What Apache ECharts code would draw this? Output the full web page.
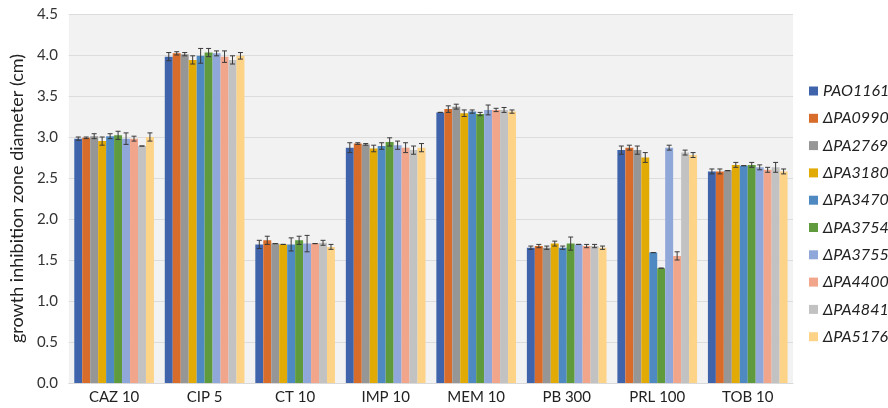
<!DOCTYPE html>
<html>
<head>
<meta charset="utf-8">
<script src="https://cdn.jsdelivr.net/npm/echarts@6/dist/echarts.min.js"></script>
<style>
html,body{margin:0;padding:0;background:#fff;}
#chart{width:888px;height:408px;}
</style>
</head>
<body>
<div id="chart"></div>
<script>
const categories = ['CAZ 10','CIP 5','CT 10','IMP 10','MEM 10','PB 300','PRL 100','TOB 10'];
const seriesNames = ['PAO1161','ΔPA0990','ΔPA2769','ΔPA3180','ΔPA3470','ΔPA3754','ΔPA3755','ΔPA4400','ΔPA4841','ΔPA5176'];
const yTicks = [0,0.5,1,1.5,2,2.5,3,3.5,4,4.5];

const PAO1161 = [2.98, 3.98, 1.69, 2.87, 3.30, 1.65, 2.84, 2.58];
const PA0990  = [2.99, 4.02, 1.74, 2.92, 3.34, 1.67, 2.87, 2.58];
const PA2769  = [3.01, 4.01, 1.70, 2.91, 3.37, 1.65, 2.84, 2.59];
const PA3180  = [2.95, 3.94, 1.69, 2.86, 3.29, 1.70, 2.75, 2.66];
const PA3470  = [3.01, 3.99, 1.69, 2.89, 3.31, 1.65, 1.59, 2.65];
const PA3754  = [3.02, 4.03, 1.74, 2.94, 3.28, 1.70, 1.40, 2.66];
const PA3755  = [2.98, 4.02, 1.70, 2.90, 3.33, 1.69, 2.87, 2.63];
const PA4400  = [2.98, 3.98, 1.70, 2.87, 3.33, 1.67, 1.55, 2.60];
const PA4841  = [2.89, 3.94, 1.71, 2.84, 3.33, 1.67, 2.81, 2.63];
const PA5176  = [3.00, 3.99, 1.66, 2.87, 3.31, 1.65, 2.78, 2.58];

const errPAO1161 = [0.02, 0.05, 0.05, 0.06, 0.00, 0.02, 0.05, 0.03];
const errPA0990  = [0.01, 0.02, 0.05, 0.01, 0.04, 0.02, 0.03, 0.03];
const errPA2769  = [0.03, 0.02, 0.00, 0.01, 0.03, 0.02, 0.05, 0.00];
const errPA3180  = [0.05, 0.05, 0.00, 0.04, 0.04, 0.03, 0.06, 0.03];
const errPA3470  = [0.03, 0.09, 0.08, 0.04, 0.02, 0.02, 0.00, 0.00];
const errPA3754  = [0.05, 0.05, 0.05, 0.05, 0.02, 0.08, 0.00, 0.03];
const errPA3755  = [0.07, 0.03, 0.10, 0.05, 0.06, 0.00, 0.03, 0.03];
const errPA4400  = [0.03, 0.07, 0.00, 0.06, 0.02, 0.02, 0.05, 0.03];
const errPA4841  = [0.00, 0.05, 0.03, 0.05, 0.03, 0.02, 0.03, 0.06];
const errPA5176  = [0.05, 0.04, 0.03, 0.05, 0.02, 0.02, 0.03, 0.03];

const colors = ['#3F64AC','#D86C2A','#969696','#E2AA05','#4E89C2','#5F9A3C','#8FA7D9','#F1A68C','#C2C2C2','#FDD388'];

const values = [PAO1161, PA0990, PA2769, PA3180, PA3470, PA3754, PA3755, PA4400, PA4841, PA5176];
const errors = [errPAO1161, errPA0990, errPA2769, errPA3180, errPA3470, errPA3754, errPA3755, errPA4400, errPA4841, errPA5176];

const catGap = 0.12;
const nSeries = seriesNames.length;
const font = 'Lato, "Open Sans", sans-serif';

const series = [];
seriesNames.forEach((name, i) => {
  series.push({
    name: name,
    type: 'bar',
    data: values[i],
    barGap: '0%',
    barCategoryGap: (catGap*100) + '%',
    itemStyle: { color: colors[i] },
    z: 2
  });
});
seriesNames.forEach((name, i) => {
  series.push({
    name: 'err_' + i,
    type: 'custom',
    z: 5,
    data: values[i].map((v, k) => [k, v, errors[i][k]]),
    renderItem: function (params, api) {
      const k = api.value(0), v = api.value(1), e = api.value(2);
      const band = api.size([1, 0])[0];
      const total = band * (1 - catGap);
      const bw = total / nSeries;
      const c = api.coord([k, v]);
      const x = c[0] - total / 2 + (i + 0.5) * bw;
      const yHi = api.coord([k, v + e])[1];
      const yLo = api.coord([k, v - e])[1];
      const cap = 2.5;
      const st = { stroke: '#3a3a3a', lineWidth: 1 };
      return {
        type: 'group',
        children: [
          { type: 'line', shape: { x1: x, y1: yHi, x2: x, y2: yLo }, style: st },
          { type: 'line', shape: { x1: x - cap, y1: yHi, x2: x + cap, y2: yHi }, style: st },
          { type: 'line', shape: { x1: x - cap, y1: yLo, x2: x + cap, y2: yLo }, style: st }
        ]
      };
    }
  });
});

const chart = echarts.init(document.getElementById('chart'));
chart.setOption({
  animation: false,
  backgroundColor: '#ffffff',
  textStyle: { fontFamily: font },
  grid: {
    left: 67, right: 95, top: 14, bottom: 25,
    show: true, backgroundColor: '#f2f2f2', borderWidth: 0
  },
  legend: {
    data: seriesNames,
    orient: 'vertical',
    left: 804,
    top: 77,
    icon: 'rect',
    itemWidth: 9,
    itemHeight: 9,
    itemGap: 9.3,
    textStyle: { fontFamily: font, fontSize: 16, fontStyle: 'italic', color: '#222', lineHeight: 18 }
  },
  xAxis: {
    type: 'category',
    data: categories,
    axisTick: { show: false },
    axisLine: { show: true, lineStyle: { color: '#d9d9d9' } },
    axisLabel: { fontFamily: font, fontSize: 15, color: '#222', margin: 7 },
    splitLine: { show: false }
  },
  yAxis: {
    type: 'value',
    min: 0,
    max: 4.5,
    interval: 0.5,
    axisLine: { show: false },
    axisTick: { show: false },
    axisLabel: {
      fontFamily: font, fontSize: 15, color: '#333', margin: 11,
      formatter: function (v) {
        const t = yTicks.find(y => Math.abs(y - v) < 1e-9);
        return (t === undefined ? v : t).toFixed(1);
      }
    },
    splitLine: { show: true, lineStyle: { color: '#dcdcdc', width: 1 } },
    name: 'growth inhibition zone diameter (cm)',
    nameLocation: 'middle',
    nameGap: 41,
    nameTextStyle: { fontFamily: font, fontSize: 18, color: '#222' }
  },
  series: series
});
</script>
</body>
</html>
